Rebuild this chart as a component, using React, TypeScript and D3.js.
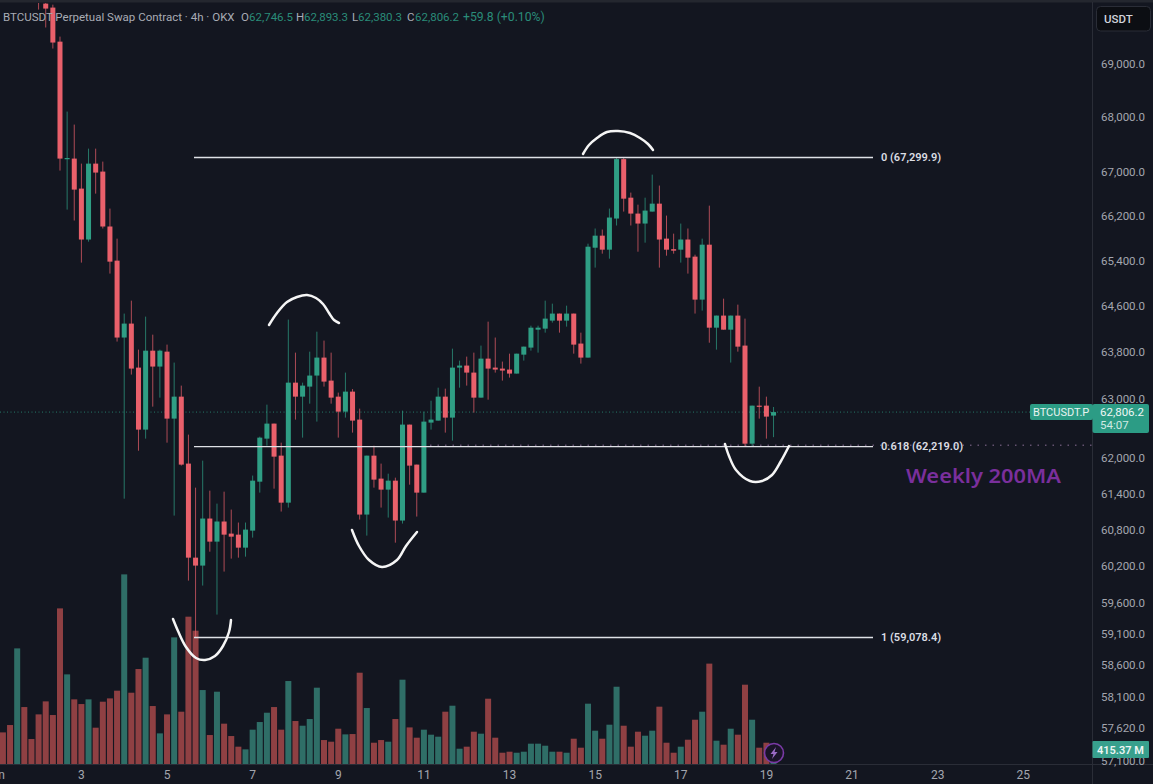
import React from "react";
import * as d3 from "d3";

const W = 1153, H = 784;
const FONT = "Roboto, sans-serif";

// 4h candles, first one sits off the top of the chart
const firstIndex = -11;
const opens = [71600,71500,71300,71100,71000,
70340,70170,70095,69450,67270,67280,66734,65818,67188,67043,66051,65442,64090,64333,63569,62508,63862,63587,63845,62695,63070,61934,60373,60243,61017,60636,60968,60768,60751,60537,60817,61631,62355,62610,62068,61281,63310,63070,63242,63432,63742,63345,63070,62814,63156,62678,61083,62068,61682,61498,61648,60984,62593,61917,61448,62627,62661,63070,62712,63569,63604,63483,63053,63724,63569,63552,63535,63466,63793,63915,64227,64245,64385,64508,64385,64508,63985,63742,65672,65887,65637,66194,67270,66570,66283,66104,66319,66462,65834,65646,65637,65818,65513,64753,65726,64262,64473,64227,64473,63950,62270,62916,62916,62746.5];
const highs = [71800,71700,71500,71300,71200,
70380,70227,70151,69545,68144,67904,67188,67462,67462,67225,66373,65834,64508,64735,63880,64455,64140,63880,63967,63656,63259,62423,61531,61984,61481,61265,61464,61166,60951,60951,61733,62389,62933,62610,62287,64403,63828,63310,63845,64192,64037,63828,63139,63483,63200,62865,62068,62236,61934,61765,61698,62831,62593,61917,62814,63001,63224,63207,63897,63690,63759,63828,63950,64367,64090,63673,63810,63810,63932,64297,64297,64735,64682,64508,64647,64508,64175,65744,66015,65997,66373,67299.9,67299.9,66662,66444,66570,66988,66789,66247,65923,66104,66015,65548,65834,66426,64473,64770,64473,64665,64420,62916,63241,63070,62893.3];
const lows = [71300,71200,71000,70900,70800,
70057,69717,69320,67061,66355,66158,65407,65780,66643,66015,65212,64020,61347,63449,62151,62355,62899,63053,62287,61066,61900,59998,59078.4,59917,60471,59447,60145,60357,60373,60389,60702,61448,62236,61514,61133,61199,62678,62372,62950,62644,63242,62950,62372,62712,62457,61000,60735,61531,61199,61033,60619,60934,61581,61050,61448,62508,62661,62457,62321,63224,63259,62797,63053,63018,63483,63345,63397,63466,63690,63862,63828,64175,64350,64175,64280,63810,63638,63742,65318,65566,65477,66069,66319,66069,65601,65762,66319,65318,65530,65566,65407,65212,64508,64560,64000,63880,64227,63656,63845,62219,62219,62695,62355,62380.3];
const closes = [71400,71300,71500,71000,70900,
70210,70076,69433,67280,67290,66716,65818,67188,67025,66051,65424,64090,64333,63552,62508,63862,63587,63862,62695,63070,61917,60373,60243,61017,60636,60968,60751,60718,60537,60834,61648,62372,62610,62051,61281,63310,63070,63259,63432,63742,63328,63053,62814,63156,62661,61083,62068,61665,61498,61648,60984,62593,61900,61448,62644,62678,63070,62712,63569,63604,63483,63053,63724,63552,63535,63518,63466,63810,63932,64262,64262,64420,64508,64385,64508,63967,63742,65690,65887,65637,66212,67270,66552,66283,66104,66337,66462,65818,65637,65619,65818,65495,64753,65726,64262,64473,64227,64473,63932,62270,62916,62899,62729,62806.2];
const volumes = [895,1099,3222,1597,711,1394,1754,1376,4330,2502,1810,1680,1810,1025,1745,1837,2050,5272,1994,2650,2964,1625,868,1394,3527,1468,4100,3712,2068,822,2022,1136,794,499,425,970,1182,1440,1597,970,2318,1210,1080,1265,2133,683,637,997,840,849,2548,1570,609,683,637,1265,
2355,1033,748,970,831,776,1468,1634,443,499,914,859,1828,748,332,360,332,360,582,582,526,360,360,332,720,471,1690,942,720,1108,2160,1080,499,914,803,942,1607,609,332,499,692,1246,1468,2800,665,554,997,831,2216,1246,471,609,415.37];

const priceTicks = [69000,68000,67000,66200,65400,64600,63800,63000,62000,61400,60800,60200,59600,59100,58600,58100,57620,57100];
const dayTicks = [3,5,7,9,11,13,15,17,19,21,23,25];
const fibLevels = [
  { label: "0 (67,299.9)", price: 67299.9 },
  { label: "0.618 (62,219.0)", price: 62219.0 },
  { label: "1 (59,078.4)", price: 59078.4 },
];
const lastClose = 62806.2;

const legendParts = [
  { t: "O", x: 241, c: "#a9acb5" }, { t: "62,746.5", x: 249, c: "#2a8c79" },
  { t: "H", x: 296, c: "#a9acb5" }, { t: "62,893.3", x: 304, c: "#2a8c79" },
  { t: "L", x: 352, c: "#a9acb5" }, { t: "62,380.3", x: 358, c: "#2a8c79" },
  { t: "C", x: 407, c: "#a9acb5" }, { t: "62,806.2", x: 415, c: "#2a8c79" },
];

const sketches: [number, number][][] = [
  [[269,325],[277,313],[287,302],[297,297],[307,295],[316,298],[323,304],[329,313],[334,320],[339,323]],
  [[352,530],[359,546],[369,560],[382,567],[397,560],[406,546],[417,532]],
  [[583,154],[589,145],[597,138],[607,132],[618,131],[630,133],[640,138],[648,144],[653,150]],
  [[725,444],[729,456],[736,470],[750,481],[762,481],[772,475],[781,461],[789,446]],
  [[173,619],[178,631],[186,647],[196,658],[205,660],[215,656],[223,646],[229,632],[231,620]],
];

const GREEN = "#2f9e84", RED = "#e9606b";

export default function App() {
  const y = d3.scaleLog().domain([67299.9, 59078.4]).range([157.5, 637.5]);
  const x = d3.scaleLinear().domain([0, 96]).range([81.4, 766.4]);
  const vol = d3.scaleLinear().domain([0, 27.7]).range([764.7, 763.7]);
  const sketch = d3.line().curve(d3.curveCatmullRom.alpha(0.5));
  const idx = d3.range(opens.length);
  const text = { fontFamily: FONT } as const;
  const axisFill = "#a3a6af";

  return (
    <svg width={W} height={H} viewBox={`0 0 ${W} ${H}`} style={{ position: "fixed", left: 0, top: 0, display: "block" }}>
      <defs>
        <clipPath id="pane"><rect x={0} y={3} width={1092} height={762} /></clipPath>
      </defs>
      <rect width={W} height={H} fill="#131620" />
      <rect width={W} height={2.5} fill="#24272f" />

      <g clipPath="url(#pane)">
        <line x1={0} x2={1030} y1={y(lastClose)} y2={y(lastClose)} stroke="#2a8f7b" strokeWidth={1} strokeDasharray="1 2.5" opacity={0.8} />
        <line x1={430} x2={1092} y1={y(62219) - 1.5} y2={y(62219) - 1.5} stroke="#8c6f98" strokeWidth={1} strokeDasharray="1.5 6" />
        {idx.map((k) => {
          const up = closes[k] >= opens[k];
          const cx = x(firstIndex + k);
          const top = vol(volumes[k]);
          return <rect key={k} x={cx - 3} width={6} y={top} height={764.7 - top} fill={up ? "#2f6e67" : "#8f4043"} />;
        })}
        {idx.map((k) => {
          const up = closes[k] >= opens[k];
          const cx = x(firstIndex + k);
          const t = y(Math.max(opens[k], closes[k]));
          const b = y(Math.min(opens[k], closes[k]));
          const c = up ? GREEN : RED;
          return (
            <g key={k}>
              <line x1={cx} x2={cx} y1={y(highs[k])} y2={y(lows[k])} stroke={c} strokeWidth={1} opacity={0.72} />
              <rect x={cx - 2.5} width={5} y={t} height={Math.max(b - t, 1.2)} fill={c} />
            </g>
          );
        })}
      </g>

      {fibLevels.map((f) => (
        <g key={f.label}>
          <line x1={194} x2={873} y1={y(f.price)} y2={y(f.price)} stroke="#dfe1e6" strokeWidth={1.3} />
          <text x={881} y={y(f.price)} dominantBaseline="central" fontSize={11} fontWeight={600} fill="#dcdee4" {...text}>{f.label}</text>
        </g>
      ))}

      {sketches.map((s, i) => (
        <path key={i} d={sketch(s) as string} fill="none" stroke="#f5f5f5" strokeWidth={2.5} strokeLinecap="round" />
      ))}

      <text x={3} y={17} dominantBaseline="central" fontSize={11.5} fill="#a9acb5" {...text}>BTCUSDT Perpetual Swap Contract · 4h · OKX</text>
      {legendParts.map((p) => (
        <text key={p.x} x={p.x} y={17} dominantBaseline="central" fontSize={11.5} fill={p.c} {...text}>{p.t}</text>
      ))}
      <text x={463} y={17} dominantBaseline="central" fontSize={12.2} fill="#2a8c79" {...text}>+59.8 (+0.10%)</text>

      <text x={906} y={475} dominantBaseline="central" fontSize={20.5} fontWeight={600} fill="#7a2f9c" textLength={155} lengthAdjust="spacingAndGlyphs" style={{ fontFamily: "'Noto Sans', sans-serif" }}>Weekly 200MA</text>

      <g transform="translate(774,753)">
        <circle r={9.5} fill="#1a1428" stroke="#7a3aa6" strokeWidth={1.6} />
        <path d={d3.line()([[2,-6],[-3.5,1],[-0.5,1],[-2,6],[3.5,-1],[0.5,-1],[2,-6]]) as string} fill="#9a6ac4" />
      </g>

      {/* axes */}
      <line x1={1092.5} x2={1092.5} y1={2} y2={H} stroke="#2a2d37" />
      <line x1={0} x2={W} y1={764.5} y2={764.5} stroke="#2a2d37" />
      {priceTicks.map((p) => (
        <text key={p} x={1101} y={y(p) - 2} dominantBaseline="central" fontSize={11.5} fill={axisFill} {...text}>{d3.format(",.1f")(p)}</text>
      ))}
      <text x={5} y={775} dominantBaseline="central" textAnchor="end" fontSize={12} fill={axisFill} {...text}>Jun</text>
      {dayTicks.map((d) => (
        <text key={d} x={x((d - 3) * 6)} y={775} dominantBaseline="central" textAnchor="middle" fontSize={12} fill={axisFill} {...text}>{d}</text>
      ))}

      <rect x={1096.5} y={6.5} width={54} height={24.5} rx={4} fill="#0c0e13" stroke="#2a2d37" />
      <text x={1104} y={19} dominantBaseline="central" fontSize={11.5} fontWeight={500} fill="#d1d4dc" {...text}>USDT</text>

      <rect x={1030} y={404} width={63} height={16} rx={2} fill="#2c9c85" />
      <text x={1033} y={412} dominantBaseline="central" fontSize={11} fill="#e8f3f0" {...text}>BTCUSDT.P</text>
      <rect x={1092.5} y={404} width={56.5} height={29} rx={2} fill="#2c9c85" />
      <text x={1100} y={411.5} dominantBaseline="central" fontSize={11.5} fill="#eef6f4" {...text}>{d3.format(",.1f")(lastClose)}</text>
      <text x={1100} y={425} dominantBaseline="central" fontSize={11.5} fill="#cfe9e3" {...text}>54:07</text>

      <rect x={1092.5} y={741} width={56.5} height={17} rx={1} fill="#38a08d" />
      <text x={1097} y={750} dominantBaseline="central" fontSize={11} fontWeight={600} fill="#eef6f4" {...text}>415.37 M</text>
    </svg>
  );
}
